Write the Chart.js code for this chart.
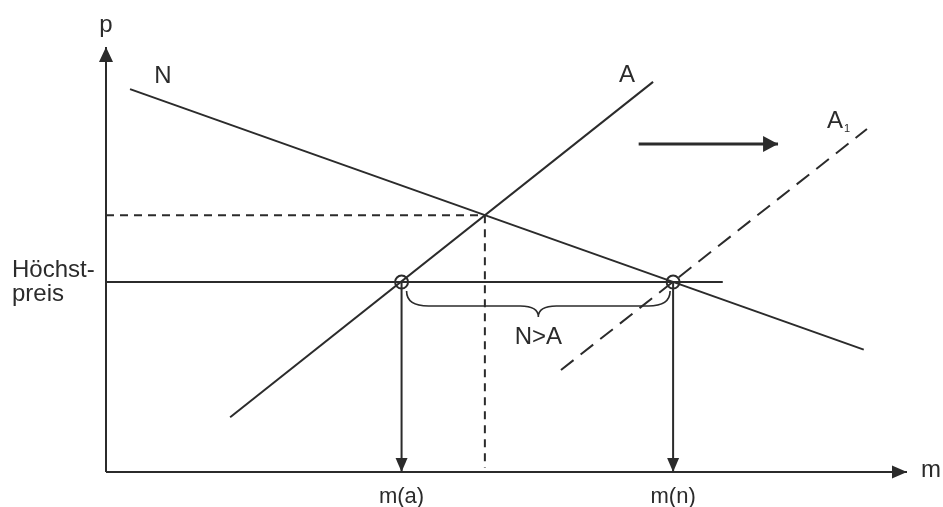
<!DOCTYPE html>
<html>
<head>
<meta charset="utf-8">
<script src="https://cdn.jsdelivr.net/npm/chart.js@4.4.1/dist/chart.umd.min.js"></script>
<style>
  html, body { margin: 0; padding: 0; background: #fff; }
  #wrap { width: 943px; height: 507px; }
</style>
</head>
<body>
<div id="wrap"><canvas id="marketChart"></canvas></div>
<script>
// quantity m on x, price p on y, both drawn on a 0..100 scale
const demandN = [{ x: 3, y: 90.1 }, { x: 94.6, y: 28.8 }];
const supplyA = [{ x: 15.5, y: 12.9 }, { x: 68.3, y: 91.8 }];
const supplyA1 = [{ x: 56.8, y: 24 }, { x: 95, y: 80.7 }];
const equilibrium = { x: 47.3, y: 60.4 };
const maxPrice = 44.7;
const maxPriceEnd = 77;
const quantityA = 36.9;   // m(a)
const quantityN = 70.8;   // m(n)
const shiftArrow = [{ x: 66.5, y: 77.2 }, { x: 83.9, y: 77.2 }];

const xTickLabels = ['m(a)', 'm(n)'];
const yTickLabels = [['Höchst-', 'preis']];
const axisNames = ['m', 'p'];
const curveNames = ['N', 'A', 'A'];
const gapLabel = 'N>A';

const ink = '#2b2b2b';
const font = "'Liberation Sans', Arial, sans-serif";

function lineSet(data, extra) {
  return Object.assign({
    data: data,
    showLine: true,
    borderColor: ink,
    borderWidth: 2,
    pointRadius: 0,
    pointHoverRadius: 0,
    clip: false
  }, extra || {});
}

const datasets = [
  lineSet([{ x: 0, y: 0 }, { x: 0, y: 100 }], { arrowHead: [15, 14] }),
  lineSet([{ x: 0, y: 0 }, { x: 100, y: 0 }], { arrowHead: [15, 13] }),
  lineSet(demandN),
  lineSet(supplyA),
  lineSet(supplyA1, { borderDash: [16, 9] }),
  lineSet([{ x: 0, y: maxPrice }, { x: maxPriceEnd, y: maxPrice }]),
  lineSet([{ x: 0, y: equilibrium.y }, equilibrium], { borderDash: [8, 6] }),
  lineSet([equilibrium, { x: equilibrium.x, y: 1 }], { borderDash: [8, 6] }),
  lineSet([{ x: quantityA, y: maxPrice }, { x: quantityA, y: 0 }], { arrowHead: [14, 12] }),
  lineSet([{ x: quantityN, y: maxPrice }, { x: quantityN, y: 0 }], { arrowHead: [14, 12] }),
  lineSet(shiftArrow, { borderWidth: 3, arrowHead: [15, 16] }),
  {
    data: [{ x: quantityA, y: maxPrice }, { x: quantityN, y: maxPrice }],
    showLine: false,
    pointRadius: 6.5,
    pointHoverRadius: 6.5,
    pointBorderWidth: 2,
    pointBorderColor: ink,
    pointBackgroundColor: 'transparent',
    clip: false
  }
];

function head(ctx, from, to, len, wid) {
  const ang = Math.atan2(to.y - from.y, to.x - from.x);
  ctx.save();
  ctx.translate(to.x, to.y);
  ctx.rotate(ang);
  ctx.beginPath();
  ctx.moveTo(0, 0);
  ctx.lineTo(-len, wid / 2);
  ctx.lineTo(-len, -wid / 2);
  ctx.closePath();
  ctx.fillStyle = ink;
  ctx.fill();
  ctx.restore();
}

const extras = {
  id: 'extras',
  afterDatasetsDraw(chart) {
    const ctx = chart.ctx, xs = chart.scales.x, ys = chart.scales.y;
    const px = p => ({ x: xs.getPixelForValue(p.x), y: ys.getPixelForValue(p.y) });

    chart.data.datasets.forEach((ds, i) => {
      if (!ds.arrowHead) return;
      const pts = chart.getDatasetMeta(i).data;
      head(ctx, pts[pts.length - 2], pts[pts.length - 1], ds.arrowHead[0], ds.arrowHead[1]);
    });

    // curly brace under the price ceiling
    const x1 = xs.getPixelForValue(quantityA) + 5;
    const x2 = xs.getPixelForValue(quantityN) - 3;
    const y0 = ys.getPixelForValue(maxPrice) + 9;
    const yb = y0 + 15, tip = y0 + 26, xm = (x1 + x2) / 2;
    ctx.save();
    ctx.strokeStyle = ink;
    ctx.lineWidth = 1.6;
    ctx.beginPath();
    ctx.moveTo(x1, y0);
    ctx.quadraticCurveTo(x1, yb, x1 + 22, yb);
    ctx.lineTo(xm - 18, yb);
    ctx.quadraticCurveTo(xm, yb, xm, tip);
    ctx.quadraticCurveTo(xm, yb, xm + 18, yb);
    ctx.lineTo(x2 - 22, yb);
    ctx.quadraticCurveTo(x2, yb, x2, y0);
    ctx.stroke();

    ctx.fillStyle = ink;
    ctx.textBaseline = 'middle';
    ctx.font = '24px ' + font;
    ctx.textAlign = 'center';
    ctx.fillText(gapLabel, xm, tip + 20);

    const n0 = px(demandN[0]);
    ctx.fillText(curveNames[0], n0.x + 33, n0.y - 13);
    const a1 = px(supplyA[1]);
    ctx.fillText(curveNames[1], a1.x - 26, a1.y - 6);
    const b1 = px(supplyA1[1]);
    ctx.fillText(curveNames[2], b1.x - 32, b1.y - 8);
    ctx.font = '11px ' + font;
    ctx.fillText('1', b1.x - 20, b1.y + 0);

    ctx.font = '24px ' + font;
    const yTop = px({ x: 0, y: 100 });
    ctx.fillText(axisNames[1], yTop.x, yTop.y - 22);
    const xEnd = px({ x: 100, y: 0 });
    ctx.textAlign = 'left';
    ctx.fillText(axisNames[0], xEnd.x + 14, xEnd.y - 2);
    ctx.restore();
  }
};

new Chart(document.getElementById('marketChart'), {
  type: 'scatter',
  data: { datasets: datasets },
  options: {
    responsive: true,
    maintainAspectRatio: false,
    animation: false,
    layout: { padding: { left: 12, top: 47, right: 36, bottom: 0 } },
    plugins: { legend: { display: false }, tooltip: { enabled: false } },
    scales: {
      x: {
        type: 'linear', min: 0, max: 100,
        grid: { display: false, drawTicks: false },
        border: { display: false },
        afterBuildTicks: s => { s.ticks = [quantityA, quantityN].map(v => ({ value: v })); },
        afterFit: s => { s.height = 35; },
        ticks: {
          autoSkip: false, maxRotation: 0, padding: 12, color: ink,
          font: { family: font, size: 22 },
          callback: (v, i) => xTickLabels[i]
        }
      },
      y: {
        type: 'linear', min: 0, max: 100,
        grid: { display: false, drawTicks: false },
        border: { display: false },
        afterBuildTicks: s => { s.ticks = [{ value: maxPrice }]; },
        afterFit: s => { s.width = 94; },
        ticks: {
          autoSkip: false, crossAlign: 'far', color: ink,
          font: { family: font, size: 24, lineHeight: 1.0 },
          callback: (v, i) => yTickLabels[i]
        }
      }
    }
  },
  plugins: [extras]
});
</script>
</body>
</html>
